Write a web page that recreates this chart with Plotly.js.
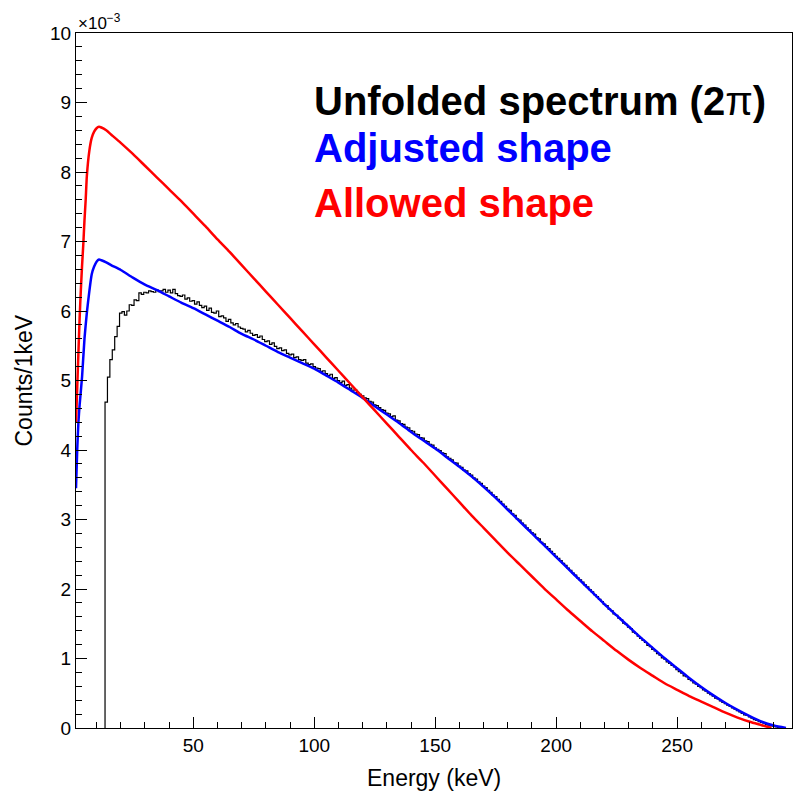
<!DOCTYPE html>
<html>
<head>
<meta charset="utf-8">
<script src="https://cdn.plot.ly/plotly-3.0.1.min.js"></script>
<style>html,body{margin:0;padding:0;background:#fff;}#chart{width:797px;height:794px;}</style>
</head>
<body>
<div id="chart"></div>
<script>
// Values in units of 1e-3 counts/keV
const redEnergy = [1.5,2,2.5,3,3.5,4,4.5,5,5.5,6,7,8,9,10,11,12,14,16,20,25,30,35,40,45,50,55,60,65,70,75,80,85,90,95,100,105,110,115,120,125,130,135,140,145,150,155,160,165,170,175,180,185,190,195,200,205,210,215,220,225,230,235,240,245,250,255,260,265,270,275,280,285,289];
const redCounts = [4.40,4.90,5.40,5.90,6.30,6.65,6.95,7.30,7.60,7.95,8.30,8.49,8.58,8.63,8.65,8.64,8.60,8.54,8.42,8.26,8.09,7.92,7.75,7.58,7.40,7.22,7.03,6.85,6.66,6.47,6.28,6.09,5.90,5.71,5.52,5.33,5.14,4.95,4.76,4.57,4.38,4.19,4.00,3.82,3.63,3.44,3.25,3.06,2.88,2.70,2.52,2.35,2.18,2.01,1.85,1.69,1.54,1.39,1.25,1.11,0.98,0.86,0.75,0.64,0.55,0.46,0.38,0.30,0.22,0.15,0.09,0.04,0.00];

const blueEnergy = [1.5,2,2.5,3,4,5,6,7,8,9,10,11,12,14,16,20,25,30,35,40,45,50,55,60,65,70,75,80,85,90,95,100,105,110,115,120,125,130,135,140,145,150,155,160,165,170,175,180,185,190,195,200,205,210,215,220,225,230,235,240,245,250,255,260,265,270,275,280,285,290,295];
const blueCounts = [3.45,4.00,4.40,4.65,5.05,5.60,5.98,6.28,6.53,6.64,6.71,6.74,6.73,6.70,6.66,6.59,6.48,6.38,6.30,6.21,6.12,6.04,5.95,5.86,5.77,5.67,5.59,5.50,5.41,5.33,5.25,5.17,5.07,4.97,4.86,4.75,4.63,4.51,4.39,4.26,4.14,4.02,3.89,3.76,3.62,3.47,3.31,3.14,2.97,2.80,2.63,2.46,2.29,2.12,1.95,1.78,1.62,1.46,1.30,1.15,1.00,0.86,0.72,0.59,0.47,0.36,0.26,0.17,0.09,0.035,0.00];

// Unfolded spectrum histogram: 1 keV bins, first bin centre at 14 keV
const histFirstBinCentre = 14;
const histCounts = [
4.69,5.05,5.30,5.44,5.63,5.78,5.97,5.99,5.94,6.00,6.09,6.08,6.16,6.15,6.26,6.24,6.27,6.26,6.29,6.28,6.27,6.30,6.28,6.29,6.31,6.27,6.30,
6.26,6.31,6.25,6.22,6.21,6.23,6.17,6.19,6.14,6.15,6.10,6.13,6.08,6.05,6.07,6.01,6.04,5.98,5.97,6.00,
5.92,5.93,5.90,5.85,5.88,5.83,5.80,5.82,5.77,5.75,5.74,5.70,5.72,5.68,5.65,5.66,5.62,5.64,5.59,5.56,
5.57,5.52,5.54,5.49,5.46,5.47,5.43,5.44,5.39,5.37,5.38,5.33,5.34,5.30,5.29,5.30,5.25,5.23,5.24,5.20,
5.18,5.17,5.13,5.14,5.10,5.07,5.09,5.03,5.04,5.00,4.97,4.99,4.93,4.94,4.89,4.86,4.87,4.82,4.80,4.78,
4.75,4.74,4.70,4.69,4.65,4.64,4.61,4.58,4.57,4.53,4.52,4.48,4.49,4.43,4.42,4.38,4.37,4.33,4.32,4.28,
4.27,4.23,4.22,4.18,4.17,4.13,4.12,4.08,4.07,4.03,
4.01,3.99,3.96,3.95,3.90,3.88,3.86,3.82,3.81,3.77,3.75,3.71,3.70,3.66,3.64,3.60,3.58,3.54,3.52,3.48,
3.46,3.42,3.39,3.35,3.33,3.29,3.26,3.22,3.19,3.15,3.13,3.08,3.06,3.01,2.99,2.95,2.92,2.88,2.85,2.81,
2.79,2.74,2.72,2.67,2.65,2.61,2.58,2.54,2.51,2.47,
2.44,2.41,2.37,2.34,2.30,2.27,2.23,2.20,2.16,2.13,2.10,2.06,2.03,1.99,1.96,1.92,1.89,1.85,1.82,1.78,
1.76,1.71,1.69,1.64,1.62,1.58,1.56,1.51,1.49,1.45,1.43,1.38,1.36,1.32,1.29,1.26,1.23,1.19,1.17,1.13,
1.11,1.07,1.05,1.01,0.99,0.95,0.93,0.90,0.88,0.84,
0.81,0.79,0.75,0.74,0.70,0.68,0.65,0.63,0.60,0.58,0.55,0.53,0.50,0.48,0.46,0.43,0.42,0.39,0.37,0.35,
0.33,0.31,0.29,0.27,0.25,0.23,0.21,0.19,0.18,0.16,0.14,0.12,0.11,0.09,0.08,0.07,0.05,0.04,0.03,0.025,
0.015,0.01,0.005,0.0
];

const xTickVals = [50,100,150,200,250];
const yTickVals = [0,1,2,3,4,5,6,7,8,9,10];

const legendLines = ["<b>Unfolded spectrum (2</b>\u03c0<b>)</b>", "<b>Adjusted shape</b>", "<b>Allowed shape</b>"];
const legendColors = ["#000000", "#0000ff", "#ff0000"];

// build step outline of the histogram from bin edges
const histEdges = histCounts.map((_, i) => histFirstBinCentre - 0.5 + i);
const histX = [histEdges[0]].concat(histEdges, [histEdges[histEdges.length - 1] + 1]);
const histY = [0].concat(histCounts, [histCounts[histCounts.length - 1]]);

const FONT = "Liberation Sans, Arial, Helvetica, sans-serif";

const traces = [
  {x: histX, y: histY, type: "scatter", mode: "lines", line: {shape: "hv", color: "#000000", width: 1.2}, hoverinfo: "skip"},
  {x: blueEnergy, y: blueCounts, type: "scatter", mode: "lines", line: {shape: "spline", smoothing: 0.6, color: "#0000ff", width: 2.5}, hoverinfo: "skip"},
  {x: redEnergy, y: redCounts, type: "scatter", mode: "lines", line: {shape: "spline", smoothing: 0.6, color: "#ff0000", width: 2.5}, hoverinfo: "skip"}
];

const legendY = [101, 148, 203];
const annotations = legendLines.map((t, i) => ({
  text: t, xref: "paper", yref: "paper",
  x: (312 - 76) / 716, y: (728 - legendY[i]) / 695, xanchor: "left", yanchor: "middle",
  showarrow: false, font: {family: FONT, size: 40, color: legendColors[i]}
}));
annotations.push({text: "\u00d710<sup>\u22123</sup>", xref: "paper", yref: "paper", x: 0, y: 1, xanchor: "left", yanchor: "bottom", yshift: -2, showarrow: false, font: {family: FONT, size: 17, color: "#000"}});
annotations.push({text: "Energy (keV)", xref: "paper", yref: "paper", x: 0.5, y: -(777.7 - 728) / 695, xanchor: "center", yanchor: "middle", showarrow: false, font: {family: FONT, size: 23, color: "#000"}});
annotations.push({text: "Counts/1keV", xref: "paper", yref: "paper", x: (23 - 76) / 716, y: 0.5, xanchor: "center", yanchor: "middle", textangle: -90, showarrow: false, font: {family: FONT, size: 23, color: "#000"}});

const layout = {
  width: 797, height: 794,
  margin: {l: 76, r: 5, t: 33, b: 66, pad: 0},
  paper_bgcolor: "#ffffff", plot_bgcolor: "#ffffff",
  showlegend: false,
  font: {family: FONT, size: 19, color: "#000"},
  xaxis: {
    range: [1.5, 297.5], tickvals: xTickVals, ticks: "inside", ticklen: 11, tickwidth: 1, tickcolor: "#000",
    minor: {dtick: 10, tick0: 0, ticks: "inside", ticklen: 6, tickcolor: "#000", showgrid: false},
    showline: true, linecolor: "#000", linewidth: 1, mirror: true, showgrid: false, zeroline: false,
    tickfont: {family: FONT, size: 19, color: "#000"}
  },
  yaxis: {
    range: [0, 10], tickvals: yTickVals, ticks: "inside", ticklen: 11, tickwidth: 1, tickcolor: "#000",
    minor: {dtick: 0.2, tick0: 0, ticks: "inside", ticklen: 6, tickcolor: "#000", showgrid: false},
    showline: true, linecolor: "#000", linewidth: 1, mirror: true, showgrid: false, zeroline: false,
    tickfont: {family: FONT, size: 19, color: "#000"}
  },
  annotations: annotations
};

Plotly.newPlot("chart", traces, layout, {staticPlot: true, displayModeBar: false});
</script>
</body>
</html>
